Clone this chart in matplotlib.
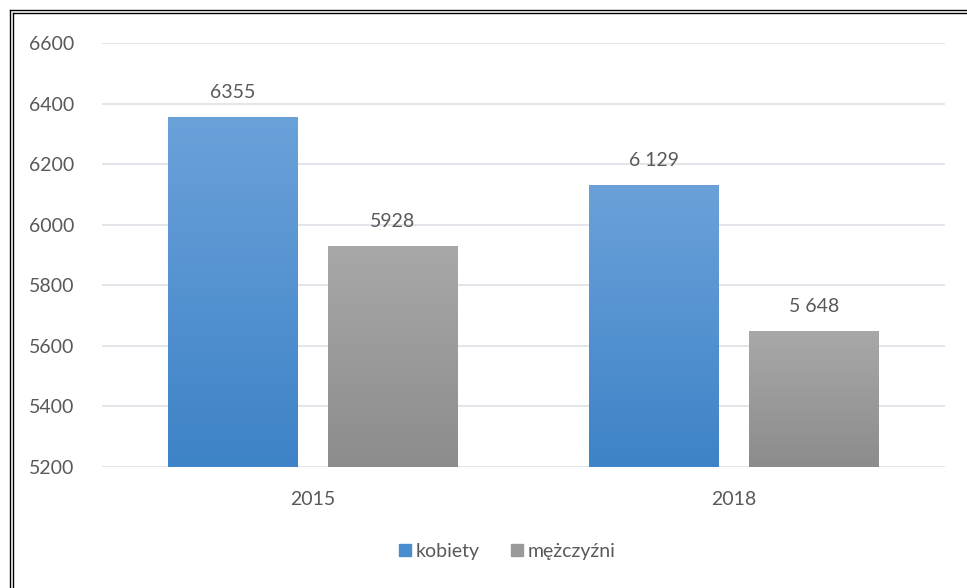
import numpy as np
import matplotlib
matplotlib.use("Agg")
import matplotlib.pyplot as plt
from matplotlib.colors import LinearSegmentedColormap
from matplotlib.lines import Line2D

plt.rcParams['font.family'] = ['Lato', 'DejaVu Sans']

# Dane
lata = ['2015', '2018']
kobiety = [6355, 6129]
mezczyzni = [5928, 5648]
etykiety_k = ['6355', '6 129']
etykiety_m = ['5928', '5 648']
serie = ['kobiety', 'mężczyźni']

tekst = '#595959'
fig = plt.figure(figsize=(9.67, 5.88), dpi=100)
ax = fig.add_axes([102/967, 1 - 467/588, 843/967, 424/588])

x = np.arange(len(lata))
w = 0.308
off = 0.19

# Gradienty slupkow (jasniejszy u gory)
cm_blue = LinearSegmentedColormap.from_list('b', ['#3d83c7', '#6ba1d9'])
cm_grey = LinearSegmentedColormap.from_list('g', ['#8c8c8c', '#a8a8a8'])
grad = np.linspace(0, 1, 256).reshape(-1, 1)

def slupki(pos, vals, cmap, labels):
    bars = ax.bar(pos, vals, w, bottom=0, color='none', zorder=2)
    for b, v, lab in zip(bars, vals, labels):
        x0 = b.get_x()
        ax.imshow(grad, cmap=cmap, origin='lower', aspect='auto',
                  extent=(x0, x0 + b.get_width(), 5200, v), zorder=2)
        ax.text(x0 + b.get_width() / 2, v + 55, lab, ha='center', va='bottom',
                fontsize=14, color=tekst)

slupki(x - off, kobiety, cm_blue, etykiety_k)
slupki(x + off, mezczyzni, cm_grey, etykiety_m)

ax.set_xlim(-0.5, 1.5)
ax.set_ylim(5200, 6600)
ax.set_yticks(np.arange(5200, 6601, 200))
ax.set_xticks(x)
ax.set_xticklabels(lata)
ax.grid(axis='y', color='#dfe3e8', lw=1.3, zorder=0)
ax.set_axisbelow(True)
for s in ax.spines.values():
    s.set_visible(False)
ax.tick_params(length=0, labelsize=14, labelcolor=tekst)
ax.tick_params(axis='y', pad=20)
ax.tick_params(axis='x', pad=17)

uchwyty = [Line2D([], [], marker='s', ls='', color='#4a8cd0', markersize=8),
           Line2D([], [], marker='s', ls='', color='#9a9a9a', markersize=8)]
fig.legend(uchwyty, serie, loc='center', bbox_to_anchor=(0.52, 1 - 551/588),
           ncol=2, frameon=False, fontsize=14, handletextpad=-0.2,
           handlelength=1.5, columnspacing=1.2, labelcolor=tekst)

# Podwojna ramka
for p in [9.5, 12.5]:
    fig.add_artist(Line2D([p/967, p/967], [0, 1 - p/588], color='black', lw=1.0,
                          transform=fig.transFigure))
    fig.add_artist(Line2D([p/967, 1], [1 - p/588, 1 - p/588], color='black', lw=1.0,
                          transform=fig.transFigure))

fig.savefig('out.png', dpi=100)
